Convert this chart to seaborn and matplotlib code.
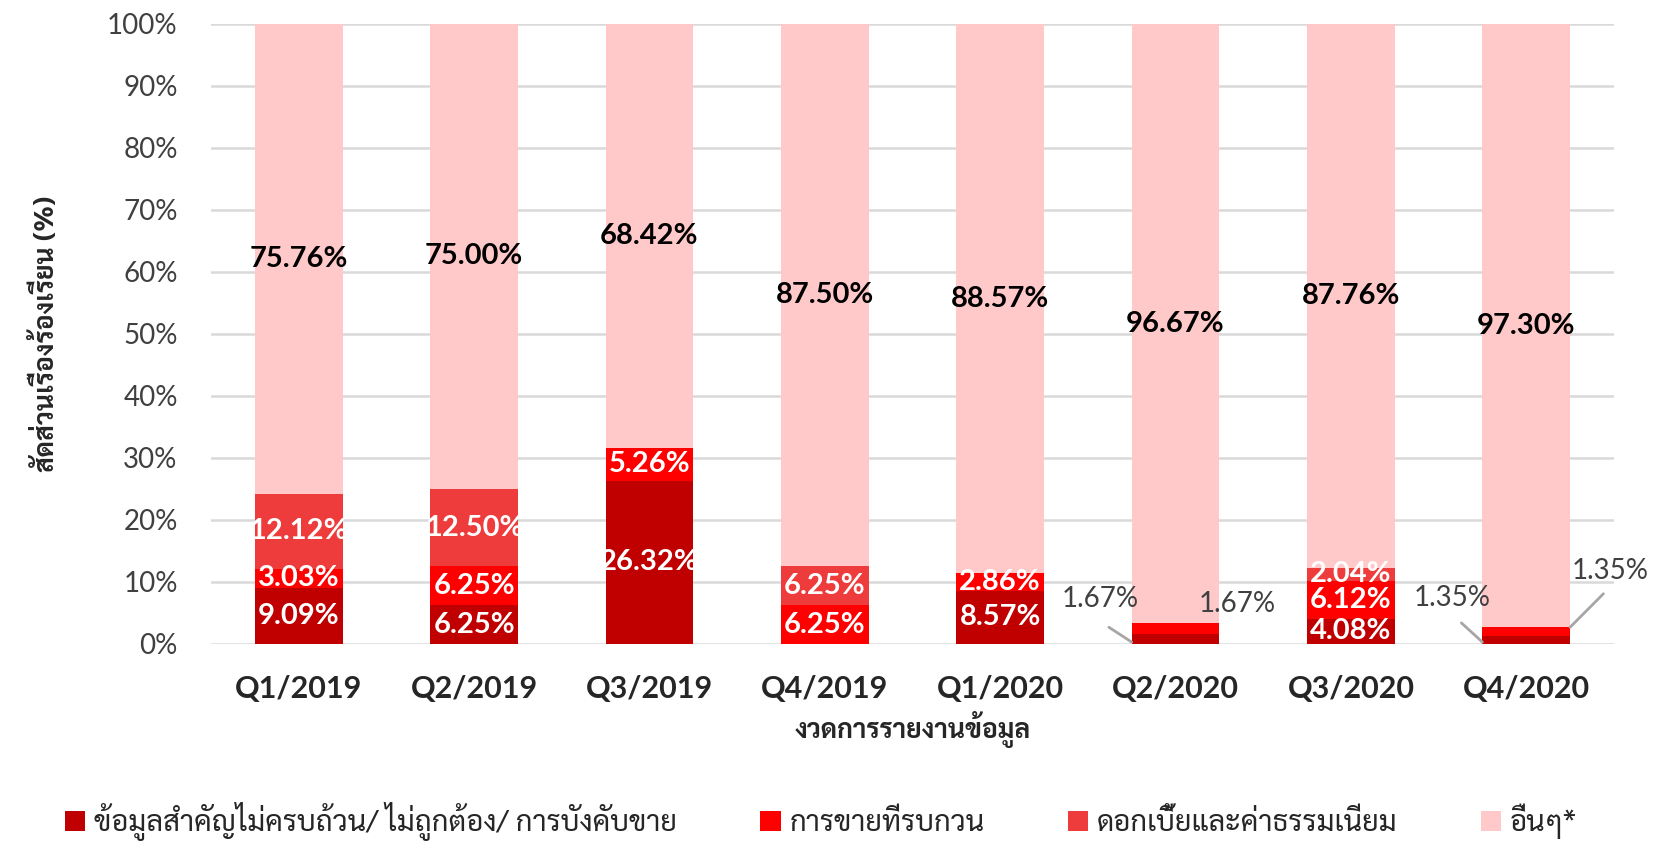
import numpy as np
import pandas as pd
import seaborn as sns
import matplotlib.pyplot as plt
from matplotlib.patches import Patch

quarters = ['Q1/2019', 'Q2/2019', 'Q3/2019', 'Q4/2019',
            'Q1/2020', 'Q2/2020', 'Q3/2020', 'Q4/2020']

# share of complaints per reporting quarter (%)
incomplete = [9.09, 6.25, 26.32, 0.00, 8.57, 1.67, 4.08, 1.35]
disturbing = [3.03, 6.25, 5.26, 6.25, 2.86, 1.67, 6.12, 1.35]
fees = [12.12, 12.50, 0.00, 6.25, 0.00, 0.00, 2.04, 0.00]
others = [75.76, 75.00, 68.42, 87.50, 88.57, 96.67, 87.76, 97.30]

series_names = ['ข้อมูลสำคัญไม่ครบถ้วน/ ไม่ถูกต้อง/ การบังคับขาย',
                'การขายที่รบกวน',
                'ดอกเบี้ยและค่าธรรมเนียม',
                'อื่นๆ*']
colors = ['#C00000', '#FF0000', '#EE3B3B', '#FFC9C9']

sns.set_theme(style='white')
plt.rcParams['font.family'] = ['Lato', 'Sarabun', 'DejaVu Sans']
thai = ['Sarabun', 'DejaVu Sans']

values = np.array([incomplete, disturbing, fees, others])
cum = values.cumsum(axis=0)

fig, ax = plt.subplots(figsize=(16.63, 8.42), dpi=100)
fig.subplots_adjust(left=0.1269, right=0.9705, bottom=0.2352, top=0.9715)

bar_w = 0.5
# draw the cumulative totals from the top layer down so each layer covers the rest
for i in range(3, -1, -1):
    df = pd.DataFrame({'quarter': quarters, 'total': cum[i]})
    sns.barplot(data=df, x='quarter', y='total', color=colors[i], width=bar_w,
                saturation=1, errorbar=None, linewidth=0, ax=ax)

# labels inside the segments
for i in range(4):
    for j, q in enumerate(quarters):
        v = values[i, j]
        if v <= 0 or q in ('Q2/2020', 'Q4/2020') and i < 3:
            continue
        mid = cum[i, j] - v / 2
        ax.text(j, mid, f'{v:.2f}%', ha='center', va='center', fontsize=21,
                fontweight='bold', color='black' if i == 3 else 'white')

# small segments: labels outside with leader lines
lead = dict(arrowstyle='-', color='#A6A6A6', lw=2, shrinkA=0, shrinkB=0)
small = {'Q2/2020': [(-0.43, 7.2, -0.13, 2.4, 0), (0.35, 6.5, None, None, 1)],
         'Q4/2020': [(-0.42, 7.4, -0.12, 3.1, 0), (0.48, 11.7, 0.19, 5.4, 1)]}
for q, items in small.items():
    j = quarters.index(q)
    for dx, ty, lx, ly, i in items:
        v = values[i, j]
        ax.text(j + dx, ty, f'{v:.2f}%', ha='center', va='center', fontsize=20,
                color='#404040')
        if lx is None:
            continue
        side = -1 if dx < 0 else 1
        cx = j + side * bar_w / 2
        cy = 0.3 if i == 0 else cum[i, j]
        ax.annotate('', xy=(cx, cy), xytext=(cx + lx, cy + ly), arrowprops=lead)

ax.set_xlim(-0.5, 7.5)
ax.set_ylim(0, 100)
ax.set_yticks(np.arange(0, 101, 10))
ax.set_yticklabels([f'{t}%' for t in range(0, 101, 10)])
ax.yaxis.grid(True, color='#D9D9D9', lw=1.8)
ax.set_axisbelow(True)
for s in ax.spines.values():
    s.set_visible(False)
ax.tick_params(axis='y', length=0, pad=24, labelsize=20, labelcolor='#404040')
ax.tick_params(axis='x', length=0, pad=22, labelsize=22)
for lab in ax.get_xticklabels():
    lab.set_fontweight('bold')

ax.set_xlabel('งวดการรายงานข้อมูล', family=thai, fontsize=19, fontweight='bold',
              labelpad=6)
ax.set_ylabel('สัดส่วนเรื่องร้องเรียน (%)', family=thai, fontsize=19,
              fontweight='bold', labelpad=34)

handles = [Patch(facecolor=c, edgecolor='none') for c in colors]
fig.legend(handles, series_names, loc='lower center', bbox_to_anchor=(0.4937, -0.03),
           ncol=4, frameon=False, prop={'family': thai, 'size': 21},
           handlelength=0.7, handleheight=0.7, handletextpad=0.3, columnspacing=2.85)

plt.savefig('out.png', dpi=100)
